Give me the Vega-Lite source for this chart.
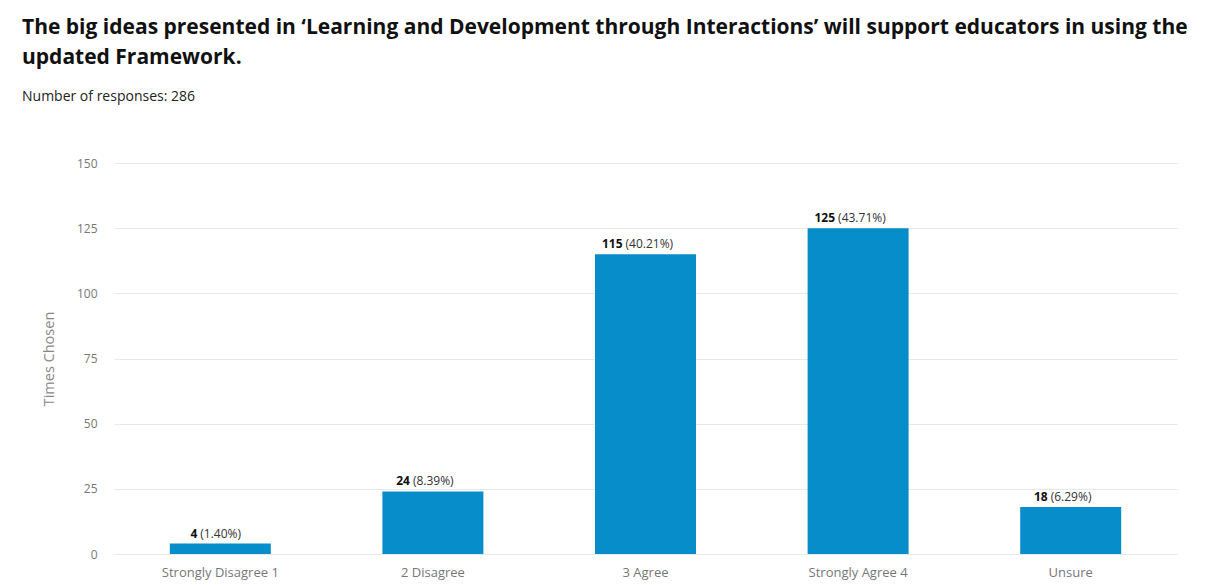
{
  "$schema": "https://vega.github.io/schema/vega-lite/v6.json",
  "width": 1063,
  "height": 391,
  "autosize": {"type": "none"},
  "padding": {"left": 114, "top": 163, "right": 35, "bottom": 31},
  "background": "white",
  "title": {
    "text": ["The big ideas presented in ‘Learning and Development through Interactions’ will support educators in using the", "updated Framework."],
    "subtitle": "Number of responses: 286",
    "anchor": "start",
    "frame": "group",
    "dx": -92,
    "offset": 53,
    "font": "Open Sans",
    "fontSize": 21,
    "fontWeight": "bold",
    "color": "#111111",
    "lineHeight": 30,
    "subtitleFont": "Open Sans",
    "subtitleFontSize": 14,
    "subtitleColor": "#222222",
    "subtitlePadding": 22
  },
  "data": {
    "values": [
      {"answer": "Strongly Disagree 1", "count": 4, "pct": "(1.40%)"},
      {"answer": "2 Disagree", "count": 24, "pct": "(8.39%)"},
      {"answer": "3 Agree", "count": 115, "pct": "(40.21%)"},
      {"answer": "Strongly Agree 4", "count": 125, "pct": "(43.71%)"},
      {"answer": "Unsure", "count": 18, "pct": "(6.29%)"}
    ]
  },
  "encoding": {
    "x": {
      "field": "answer",
      "type": "nominal",
      "sort": null,
      "scale": {"paddingInner": 0.525, "paddingOuter": 0.2625},
      "axis": {
        "title": null,
        "labelAngle": 0,
        "labelFont": "Open Sans",
        "labelFontSize": 13,
        "labelColor": "#777777",
        "labelPadding": 12,
        "ticks": false,
        "domain": false
      }
    },
    "y": {
      "field": "count",
      "type": "quantitative",
      "scale": {"domain": [0, 150]},
      "axis": {
        "title": "Times Chosen",
        "titleFont": "Open Sans",
        "titleFontSize": 14.5,
        "titleFontWeight": "normal",
        "titleColor": "#888888",
        "titlePadding": 20,
        "values": [0, 25, 50, 75, 100, 125, 150],
        "labelFont": "Open Sans",
        "labelFontSize": 12,
        "labelColor": "#777777",
        "labelPadding": 17,
        "ticks": false,
        "domain": false,
        "gridColor": "#E8E8E8",
        "gridWidth": 1
      }
    }
  },
  "layer": [
    {"mark": {"type": "bar", "color": "#078DCA"}},
    {
      "mark": {"type": "text", "align": "right", "baseline": "alphabetic", "dx": -23, "dy": -6, "font": "Open Sans", "fontSize": 12, "fontWeight": "bold", "color": "#111111"},
      "encoding": {"text": {"field": "count", "type": "quantitative"}}
    },
    {
      "mark": {"type": "text", "align": "left", "baseline": "alphabetic", "dx": -20, "dy": -6, "font": "Open Sans", "fontSize": 12, "color": "#333333"},
      "encoding": {"text": {"field": "pct", "type": "nominal"}}
    }
  ],
  "config": {"view": {"stroke": null}}
}
